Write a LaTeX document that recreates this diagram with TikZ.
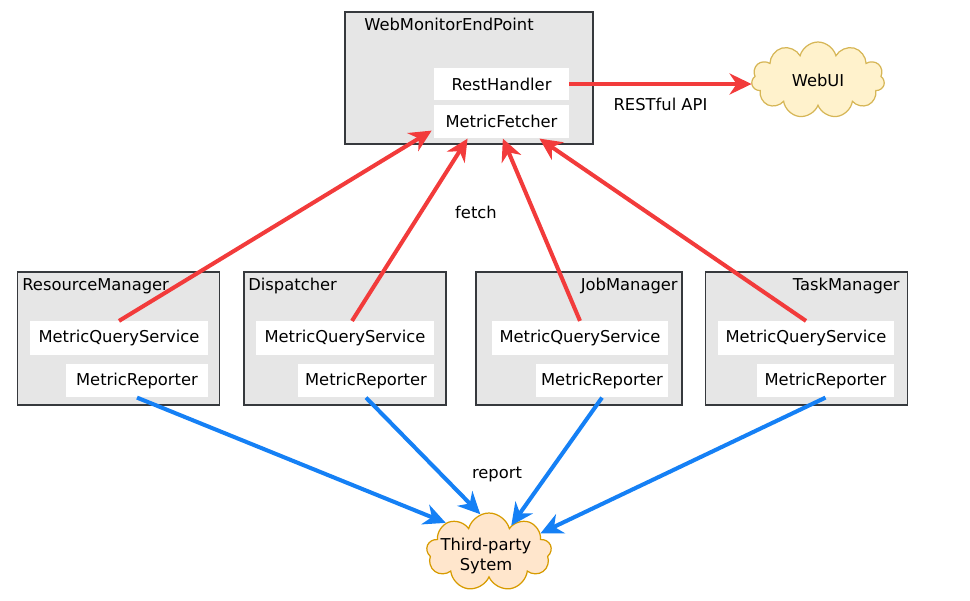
\documentclass[tikz,border=0pt]{standalone}
\usepackage{fontspec}
\setmainfont{DejaVu Sans}
\usetikzlibrary{arrows.meta,positioning,calc,shapes.symbols}
\definecolor{boxgray}{HTML}{E6E6E6}
\definecolor{boxline}{HTML}{36393D}
\definecolor{fetchred}{HTML}{F23B3B}
\definecolor{reportblue}{HTML}{1580F5}
\definecolor{uifill}{HTML}{FFF2CC}
\definecolor{uiline}{HTML}{D6B656}
\definecolor{tpfill}{HTML}{FFE6CC}
\definecolor{tpline}{HTML}{D79B00}
\tikzset{
  >={Stealth[length=4.4mm,width=4.2mm,inset=1.4mm]},
  % kasten
  host/.style={draw=boxline,fill=boxgray,line width=0.85pt,inner sep=0pt,
               minimum width=4.05cm,minimum height=2.66cm},
  hostlbl/.style={inner sep=0pt,font=\fontsize{9.3}{11}\selectfont},
  comp/.style={fill=white,inner sep=0pt,minimum height=0.67cm,
               font=\fontsize{9.3}{11}\selectfont},
  wolke/.style={cloud,cloud puffs=11,aspect=1.8,inner sep=0pt,line width=0.7pt,
                font=\fontsize{9.3}{11}\selectfont,align=center},
  % pfeile
  fetch/.style={->,draw=fetchred,line width=2.3pt},
  report/.style={->,draw=reportblue,line width=2.3pt},
  lbl/.style={inner sep=1pt,font=\fontsize{9.3}{11}\selectfont},
}
\begin{document}
\begin{tikzpicture}[x=0.02cm,y=-0.02cm]
\useasboundingbox (0,0) rectangle (970,600);
  % oben
  \node[host,minimum width=4.96cm,minimum height=2.64cm] (wme) at (469,78) {};
  \node[hostlbl,anchor=west] (wmelbl) at (364,24) {WebMonitorEndPoint};
  \node[comp,minimum width=2.7cm,minimum height=0.64cm] (rest) at (501.5,84) {RestHandler};
  \node[comp,minimum width=2.7cm] (fetcher) at (501.5,121.5) {MetricFetcher};
  \node[wolke,fill=uifill,draw=uiline,minimum width=2.66cm,minimum height=1.52cm] (webui) at (818,80) {WebUI};
  \node[wolke,cloud puffs=9,fill=tpfill,draw=tpline,minimum width=2.5cm,minimum height=1.56cm] (tp) at (489,552) {};
  \node[lbl,align=center] (tplbl) at (486,556) {Third-party\\Sytem};
  % vier prozesse
  \node[host] (rm) at (118.5,338.5) {};
  \node[host] (disp) at (345,338.5) {};
  \node[host,minimum width=4.12cm] (jm) at (579,338.5) {};
  \node[host] (tm) at (806.5,338.5) {};
  \node[hostlbl,anchor=west] (rmlbl) at (22,286) {ResourceManager};
  \node[hostlbl,anchor=west] (displbl) at (248,286) {Dispatcher};
  \node[hostlbl,anchor=east] (jmlbl) at (678,286) {JobManager};
  \node[hostlbl,anchor=east] (tmlbl) at (900,286) {TaskManager};
  \node[comp,minimum width=3.56cm] (rmq) at (119,338) {MetricQueryService};
  \node[comp,minimum width=3.56cm] (dispq) at (345,338) {MetricQueryService};
  \node[comp,minimum width=3.52cm] (jmq) at (580,338) {MetricQueryService};
  \node[comp,minimum width=3.52cm] (tmq) at (806,338) {MetricQueryService};
  \node[comp,minimum width=2.84cm] (rmr) at (137,380.5) {MetricReporter};
  \node[comp,minimum width=2.72cm] (dispr) at (366,380.5) {MetricReporter};
  \node[comp,minimum width=2.64cm] (jmr) at (602,380.5) {MetricReporter};
  \node[comp,minimum width=2.74cm] (tmr) at (825.5,380.5) {MetricReporter};
  % rot
  \draw[fetch] (rest.east) -- node[lbl,below=6pt] (restful) {RESTful API} (rest.east -| webui.west);
  \draw[fetch] (rmq.north) -- ($(fetcher.south west)+(-2,-8)$);
  \draw[fetch] ($(dispq.north)+(7,0)$) -- ($(fetcher.south west)!0.25!(fetcher.south east)$);
  \draw[fetch] (jmq.north) -- ($(fetcher.south west)!0.51!(fetcher.south east)$);
  \draw[fetch] (tmq.north) -- ($(fetcher.south west)!0.78!(fetcher.south east)$);
  \node[lbl] (fetchlbl) at (476,212) {fetch};
  % blau
  \draw[report] (rmr.south) -- (tp.146);
  \draw[report] (dispr.south) -- (tp.103);
  \draw[report] (jmr.south) -- (tp.50);
  \draw[report] (tmr.south) -- (tp.20);
  \node[lbl] (reportlbl) at (497,474) {report};
\end{tikzpicture}
\end{document}
